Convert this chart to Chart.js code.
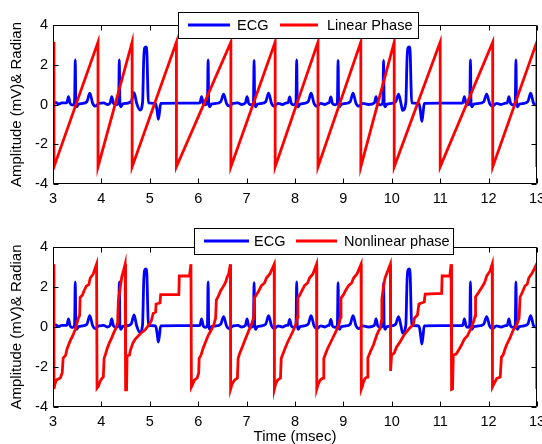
<!DOCTYPE html>
<html>
<head>
<meta charset="utf-8">
<script src="https://cdn.jsdelivr.net/npm/chart.js@4.4.1/dist/chart.umd.min.js"></script>
<style>
  body { margin: 0; background: #fff; }
  .panel { position: absolute; left: 0; width: 542px; height: 222px; }
  #topPanel { top: 0; }
  #bottomPanel { top: 222px; }
</style>
</head>
<body>
<div class="panel" id="topPanel"><canvas id="chartTop" width="542" height="222"></canvas></div>
<div class="panel" id="bottomPanel"><canvas id="chartBottom" width="542" height="222"></canvas></div>
<script>
// Axis ticks
const xTicks = [3, 4, 5, 6, 7, 8, 9, 10, 11, 12, 13];
const yTicks = [-4, -2, 0, 2, 4];

// ECG (mV), read beat by beat from the picture
const ecgTime = [
    3.00, 3.06, 3.12, 3.18,
    3.285, 3.32, 3.355, 3.40, 3.44, 3.448, 3.46, 3.472, 3.49, 3.53, 3.60, 3.70, 3.76, 3.82, 3.88, 3.95, 4.05, 4.12,
    4.18, 4.215, 4.25, 4.31, 4.35, 4.358, 4.37, 4.382, 4.40, 4.44, 4.52, 4.615, 4.675, 4.73,
    4.80, 4.85, 4.875, 4.895, 4.92, 4.94, 4.955, 4.97, 5.12, 5.15, 5.176, 5.20, 5.225, 5.60, 5.95,
    6.035, 6.07, 6.105, 6.15, 6.185, 6.193, 6.205, 6.217, 6.235, 6.275, 6.35, 6.465, 6.525, 6.585, 6.645, 6.72, 6.82, 6.90,
    6.975, 7.01, 7.045, 7.095, 7.135, 7.143, 7.155, 7.167, 7.185, 7.225, 7.30, 7.395, 7.455, 7.515, 7.575, 7.65, 7.74, 7.82,
    7.855, 7.89, 7.925, 7.975, 8.015, 8.023, 8.035, 8.047, 8.065, 8.105, 8.18, 8.273, 8.333, 8.393, 8.453, 8.53, 8.62, 8.69,
    8.705, 8.74, 8.775, 8.83, 8.87, 8.878, 8.89, 8.902, 8.92, 8.96, 9.04, 9.14, 9.20, 9.26, 9.32, 9.40, 9.52, 9.64,
    9.675, 9.71, 9.77, 9.81, 9.818, 9.83, 9.842, 9.86, 9.90, 9.98, 10.08, 10.14, 10.19,
    10.225, 10.29, 10.315, 10.335, 10.36, 10.38, 10.395, 10.41, 10.56, 10.59, 10.62, 10.645, 10.67, 11.00, 11.43,
    11.465, 11.50, 11.535, 11.575, 11.605, 11.613, 11.625, 11.637, 11.655, 11.695, 11.78, 11.90, 11.96, 12.02, 12.08, 12.16, 12.26, 12.35,
    12.385, 12.42, 12.455, 12.505, 12.545, 12.553, 12.565, 12.577, 12.595, 12.635, 12.72, 12.81, 12.87, 12.93, 13.00
];
const ecgAmp = [
    0.08, 0.10, 0.02, 0.08,
    0.08, 0.40, 0.05, -0.03, 0.06, 0.30, 2.25, 0.10, -0.12, 0.02, 0.05, 0.14, 0.57, 0.06, -0.08, 0.06, 0.08, 0.00,
    0.08, 0.40, 0.05, -0.02, 0.06, 0.30, 2.25, 0.10, -0.12, 0.03, 0.06, 0.15, 0.60, 0.05,
    -0.28, 0.10, 2.30, 2.85, 2.90, 2.60, 1.20, 0.08, 0.06, -0.30, -0.75, -0.40, 0.06, 0.07, 0.07,
    0.08, 0.40, 0.05, -0.02, 0.06, 0.30, 2.25, 0.10, -0.12, 0.02, 0.05, 0.14, 0.52, 0.06, -0.08, 0.06, 0.08, 0.00,
    0.08, 0.40, 0.05, -0.02, 0.06, 0.30, 2.22, 0.10, -0.12, 0.02, 0.05, 0.14, 0.57, 0.06, -0.08, 0.06, 0.00, 0.08,
    0.08, 0.38, 0.05, -0.02, 0.06, 0.30, 2.25, 0.10, -0.12, 0.02, 0.05, 0.14, 0.57, 0.06, -0.08, 0.06, 0.00, 0.08,
    0.08, 0.38, 0.05, -0.02, 0.06, 0.30, 2.22, 0.10, -0.12, 0.02, 0.05, 0.14, 0.57, 0.06, -0.08, 0.06, 0.00, 0.08,
    0.40, 0.05, -0.02, 0.06, 0.30, 2.22, 0.10, -0.12, 0.02, 0.05, 0.14, 0.52, 0.05,
    -0.30, 0.10, 2.30, 2.85, 2.90, 2.60, 1.20, 0.08, 0.06, -0.30, -0.85, -0.45, 0.06, 0.07, 0.07,
    0.08, 0.40, 0.05, -0.02, 0.06, 0.30, 2.25, 0.10, -0.12, 0.02, 0.05, 0.14, 0.52, 0.06, -0.08, 0.06, 0.00, 0.07,
    0.08, 0.40, 0.05, -0.02, 0.06, 0.30, 2.25, 0.10, -0.12, 0.02, 0.05, 0.14, 0.57, 0.06, -0.02
];

// Linear phase (rad): wraps from pi to -pi
const linTime = [3.02, 3.02, 3.93, 3.93, 4.635, 4.635, 5.55, 5.55, 6.675, 6.675, 7.59, 7.59,
    8.475, 8.475, 9.36, 9.36, 10.05, 10.05, 11.00, 11.00, 12.085, 12.085, 12.995, 12.995];
const linPhase = [3.14, -3.14, 3.14, -3.14, 3.14, -3.14, 3.14, -3.14, 3.14, -3.14, 3.14, -3.14,
    3.14, -3.14, 3.14, -3.14, 3.14, -3.14, 3.14, -3.14, 3.14, -3.14, 3.14, -3.14];

// Nonlinear phase (rad), one row per cycle
const nlTime = [
    3.02, 3.02, 3.04, 3.07, 3.15, 3.19, 3.21, 3.26, 3.29, 3.35, 3.41, 3.46, 3.52, 3.55, 3.56, 3.61, 3.64, 3.69, 3.74, 3.77, 3.83, 3.90,
    3.91, 3.94, 3.97, 4.01, 4.04, 4.055, 4.08, 4.12, 4.16, 4.21, 4.25, 4.30, 4.335, 4.35, 4.385, 4.42, 4.45, 4.49,
    4.50, 4.52, 4.53, 4.58, 4.60, 4.65, 4.70, 4.76, 4.82, 4.90, 4.97, 5.03, 5.07, 5.12, 5.13, 5.21, 5.225, 5.60, 5.61, 5.82, 5.85,
    5.86, 5.89, 5.92, 5.98, 6.01, 6.02, 6.06, 6.10, 6.16, 6.21, 6.27, 6.32, 6.36, 6.375, 6.42, 6.46, 6.52, 6.56, 6.60, 6.63, 6.665,
    6.67, 6.70, 6.75, 6.81, 6.825, 6.86, 6.90, 6.95, 7.00, 7.05, 7.11, 7.15, 7.16, 7.20, 7.25, 7.31, 7.37, 7.41, 7.48, 7.57,
    7.575, 7.60, 7.64, 7.70, 7.715, 7.75, 7.79, 7.84, 7.90, 7.96, 8.02, 8.05, 8.06, 8.10, 8.14, 8.20, 8.26, 8.30, 8.37, 8.445,
    8.45, 8.48, 8.52, 8.58, 8.595, 8.63, 8.67, 8.73, 8.79, 8.85, 8.91, 8.94, 8.95, 9.00, 9.04, 9.11, 9.17, 9.21, 9.28, 9.365,
    9.37, 9.40, 9.415, 9.45, 9.49, 9.505, 9.53, 9.56, 9.62, 9.655, 9.69, 9.72, 9.76, 9.785, 9.795, 9.825, 9.86, 9.90, 9.97,
    9.975, 9.995, 10.05, 10.10, 10.17, 10.24, 10.30, 10.37, 10.44, 10.47, 10.53, 10.56, 10.67, 10.69, 11.03, 11.04, 11.20, 11.225,
    11.235, 11.255, 11.27, 11.33, 11.37, 11.44, 11.50, 11.56, 11.60, 11.65, 11.70, 11.72, 11.73, 11.80, 11.89, 11.93, 11.96, 12.03, 12.075,
    12.08, 12.13, 12.17, 12.24, 12.265, 12.30, 12.34, 12.37, 12.44, 12.51, 12.58, 12.63, 12.65, 12.70, 12.75, 12.80, 12.83, 12.90, 12.99, 12.995
];
const nlPhase = [
    3.14, -3.10, -2.85, -2.65, -2.55, -2.30, -1.55, -1.42, -1.10, -0.72, -0.42, -0.12, 0.42, 0.58, 1.48, 1.60, 1.80, 2.05, 2.12, 2.45, 2.65, 3.14,
    -3.05, -2.95, -2.74, -2.57, -2.50, -1.57, -1.40, -1.07, -0.82, -0.56, -0.32, -0.06, 0.20, 1.30, 1.90, 2.50, 2.75, 3.14,
    -3.14, -3.14, -1.45, -1.40, -1.15, -0.80, -0.60, -0.45, -0.30, -0.15, 0.07, 0.30, 0.68, 0.75, 1.15, 1.20, 1.62, 1.62, 2.55, 2.55, 3.14,
    -3.00, -2.85, -2.66, -2.55, -2.30, -1.57, -1.40, -1.07, -0.70, -0.40, -0.15, 0.10, 0.45, 1.35, 1.55, 1.80, 2.03, 2.20, 2.50, 2.65, 3.14,
    -3.10, -2.85, -2.66, -2.55, -1.57, -1.30, -1.07, -0.75, -0.45, -0.15, 0.20, 0.50, 1.45, 1.60, 1.80, 2.08, 2.20, 2.45, 2.65, 3.14,
    -3.10, -2.85, -2.66, -2.55, -1.57, -1.35, -1.10, -0.80, -0.50, -0.20, 0.15, 0.50, 1.45, 1.60, 1.80, 2.08, 2.20, 2.45, 2.65, 3.14,
    -3.10, -2.85, -2.66, -2.55, -1.57, -1.35, -1.10, -0.80, -0.50, -0.20, 0.15, 0.50, 1.45, 1.60, 1.80, 2.08, 2.20, 2.45, 2.65, 3.14,
    -3.10, -2.90, -2.74, -2.57, -2.50, -1.55, -1.40, -1.22, -0.90, -0.65, -0.40, -0.23, -0.06, 0.30, 1.40, 1.95, 2.45, 2.70, 3.14,
    -2.20, -1.40, -1.30, -1.00, -0.75, -0.45, -0.25, -0.05, 0.10, 0.45, 0.60, 1.15, 1.25, 1.65, 1.68, 2.55, 2.55, 3.14,
    -3.12, -3.10, -1.40, -1.35, -1.20, -0.90, -0.60, -0.45, -0.25, 0.00, 0.35, 0.55, 1.50, 1.75, 2.10, 2.30, 2.55, 2.80, 3.14,
    -3.00, -2.75, -2.57, -2.50, -1.50, -1.40, -1.10, -0.90, -0.56, -0.15, 0.10, 0.45, 1.50, 1.75, 2.05, 2.15, 2.45, 2.70, 3.14, -3.10
];

const FONT = "'Liberation Sans', Arial, Helvetica, sans-serif";

function toPoints(ts, vs) {
    return ts.map((t, i) => ({ x: t, y: vs[i] }));
}

// MATLAB-like box with inward ticks, plus the boxed legend
const matlabAxes = {
    id: 'matlabAxes',
    afterDatasetsDraw(chart) {
        const { ctx, chartArea: a, scales: { x, y } } = chart;
        const L = Math.round(a.left) + 0.5, R = Math.round(a.right) - 0.5;
        const T = Math.round(a.top) + 0.5, B = Math.round(a.bottom) - 0.5;
        ctx.save();
        ctx.strokeStyle = '#000';
        ctx.lineWidth = 1;
        ctx.beginPath();
        ctx.rect(L, T, R - L, B - T);
        xTicks.forEach(v => {
            const px = Math.round(x.getPixelForValue(v)) + 0.5;
            ctx.moveTo(px, B); ctx.lineTo(px, B - 5);
            ctx.moveTo(px, T); ctx.lineTo(px, T + 5);
        });
        yTicks.forEach(v => {
            const py = Math.round(y.getPixelForValue(v)) + 0.5;
            ctx.moveTo(L, py); ctx.lineTo(L + 5, py);
            ctx.moveTo(R, py); ctx.lineTo(R - 5, py);
        });
        ctx.stroke();
        ctx.restore();
    },
    afterDraw(chart, args, opts) {
        const lg = opts.legend;
        if (!lg) return;
        const { ctx } = chart;
        const [bx, by, bw, bh] = lg.box;
        const cy = by + bh / 2;
        ctx.save();
        ctx.fillStyle = '#fff';
        ctx.fillRect(bx, by, bw, bh);
        ctx.strokeStyle = '#000';
        ctx.lineWidth = 1;
        ctx.strokeRect(bx + 0.5, by + 0.5, bw, bh);
        chart.data.datasets.forEach((ds, i) => {
            const [x1, x2, tx] = lg.items[i];
            ctx.strokeStyle = ds.borderColor;
            ctx.lineWidth = ds.borderWidth;
            ctx.beginPath();
            ctx.moveTo(x1, cy); ctx.lineTo(x2, cy);
            ctx.stroke();
            ctx.fillStyle = '#000';
            ctx.font = '14.5px ' + FONT;
            ctx.textBaseline = 'middle';
            ctx.textAlign = 'left';
            ctx.fillText(ds.label, tx, cy + 1);
        });
        ctx.restore();
    }
};

function makeChart(canvasId, phaseLabel, phaseTime, phaseVal, xTitle, xHeight, legend) {
    const ctx = document.getElementById(canvasId).getContext('2d');
    return new Chart(ctx, {
        type: 'line',
        data: {
            datasets: [{
                label: 'ECG',
                data: toPoints(ecgTime, ecgAmp),
                borderColor: '#0000ff',
                borderWidth: 2.8,
                pointRadius: 0,
                cubicInterpolationMode: 'monotone',
                order: 2
            }, {
                label: phaseLabel,
                data: toPoints(phaseTime, phaseVal),
                borderColor: '#ff0000',
                borderWidth: 2.8,
                pointRadius: 0,
                tension: 0,
                order: 1
            }]
        },
        options: {
            responsive: false,
            animation: false,
            events: [],
            layout: { padding: { top: 25, right: 5, left: 0, bottom: 0 } },
            plugins: {
                legend: { display: false },
                tooltip: { enabled: false },
                matlabAxes: { legend: legend }
            },
            scales: {
                x: {
                    type: 'linear',
                    min: 3,
                    max: 13,
                    afterBuildTicks: s => { s.ticks = xTicks.map(v => ({ value: v })); },
                    afterFit: s => {
                        s.height = xHeight;
                        s.paddingLeft = 0; s.paddingRight = 0;
                    },
                    grid: { display: false, drawTicks: false },
                    border: { display: false },
                    ticks: {
                        maxRotation: 0,
                        padding: 6,
                        color: '#000',
                        font: { family: FONT, size: 14.5 }
                    },
                    title: {
                        display: !!xTitle,
                        text: xTitle,
                        color: '#000',
                        padding: 0,
                        font: { family: FONT, size: 15, lineHeight: 1 }
                    }
                },
                y: {
                    min: -4,
                    max: 4,
                    afterBuildTicks: s => { s.ticks = yTicks.map(v => ({ value: v })); },
                    afterFit: s => {
                        s.width = 53;
                        s.paddingTop = 0; s.paddingBottom = 0;
                    },
                    grid: { display: false, drawTicks: false },
                    border: { display: false },
                    ticks: {
                        padding: 5,
                        color: '#000',
                        font: { family: FONT, size: 14.5 }
                    },
                    title: {
                        display: true,
                        text: 'Amplitude (mV)& Radian',
                        color: '#000',
                        padding: { top: 9.5, bottom: 0 },
                        font: { family: FONT, size: 15, lineHeight: 1 }
                    }
                }
            }
        },
        plugins: [matlabAxes]
    });
}

makeChart('chartTop', 'Linear Phase', linTime, linPhase, '', 38, {
    box: [178, 12, 240, 26],
    items: [[188, 230, 237], [280, 318, 327]]
});
makeChart('chartBottom', 'Nonlinear phase', nlTime, nlPhase, 'Time (msec)', 37, {
    box: [194, 6, 259, 26],
    items: [[204, 249, 254], [296, 337, 344]]
});
</script>
</body>
</html>
